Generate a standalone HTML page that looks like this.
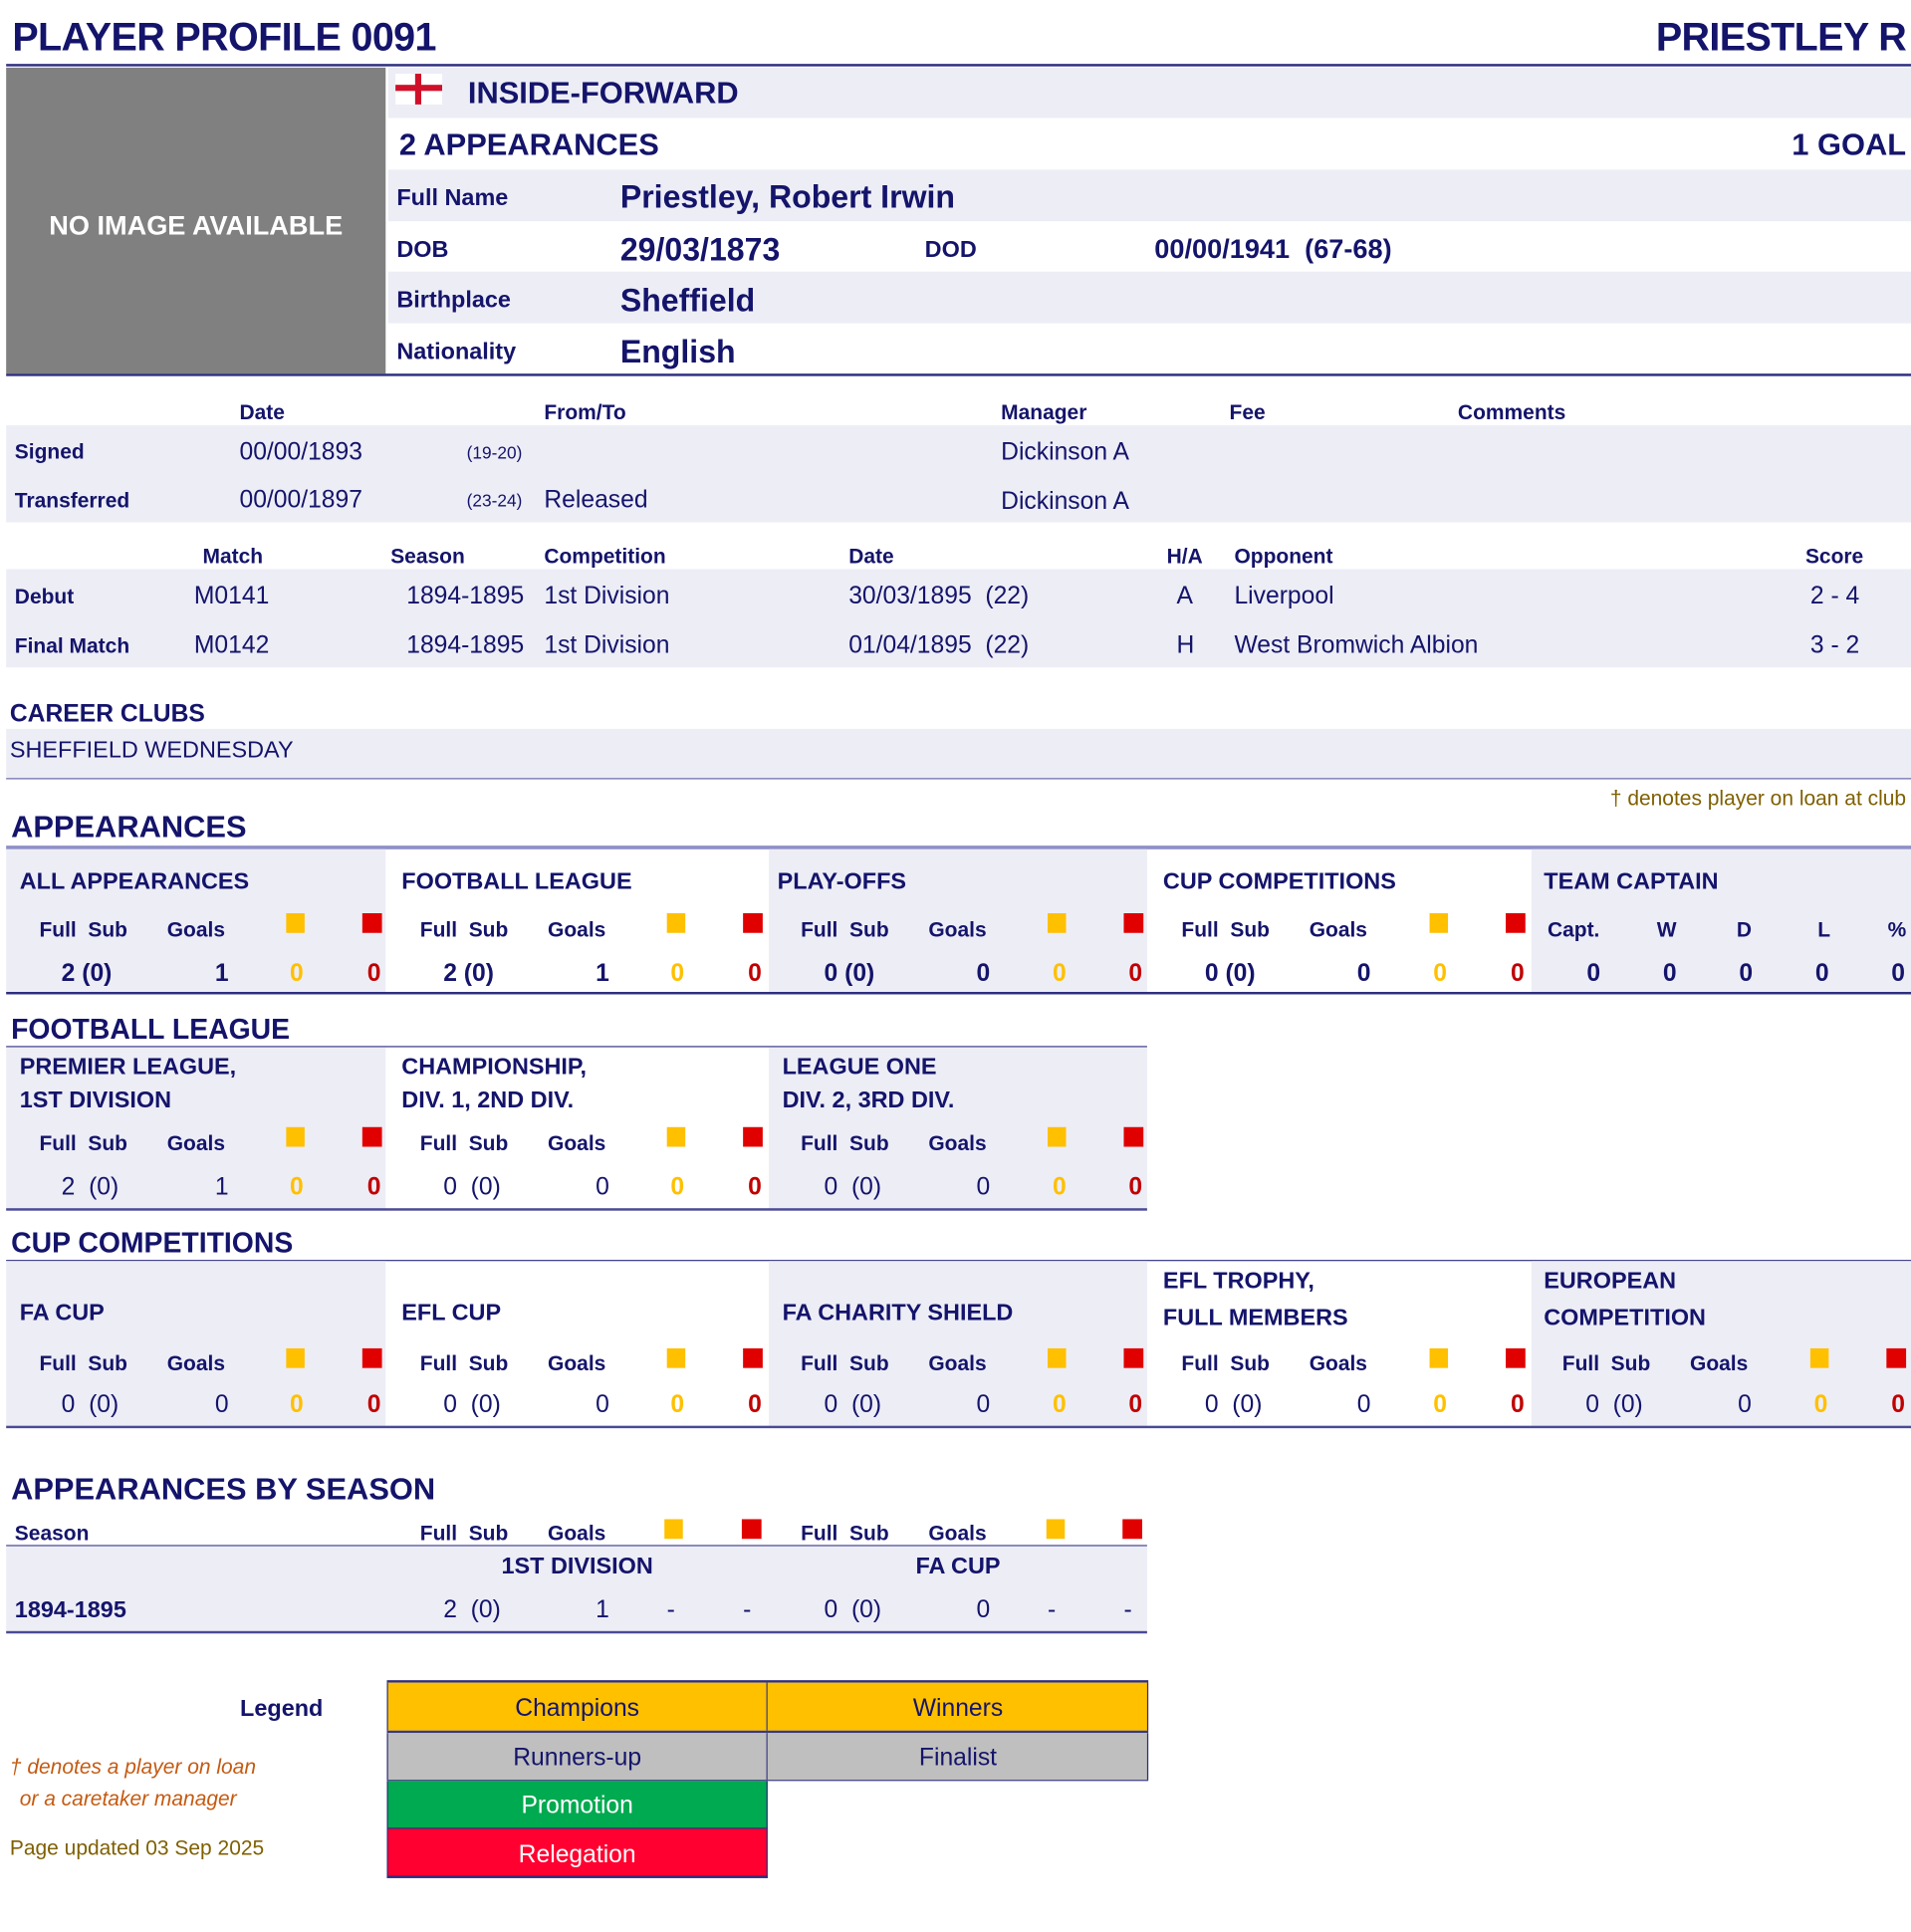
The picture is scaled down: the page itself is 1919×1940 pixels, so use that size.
<!DOCTYPE html>
<html><head><meta charset="utf-8">
<style>
html,body{margin:0;padding:0;background:#fff;width:1919px;height:1933px;overflow:hidden}
#w{position:absolute;left:0;top:0;width:1560px;height:1572px;transform:scale(1.2333,1.2342);transform-origin:0 0;font-family:"Liberation Sans",sans-serif;color:#14146b}
.t{position:absolute;white-space:nowrap;line-height:1}
.b{font-weight:bold}
.r{position:absolute}
.lav{background:#ededf6}
.ln{position:absolute;height:2px;background:#2e2e80}
.ys{position:absolute;width:15px;height:16px;background:#ffc000}
.rs{position:absolute;width:16px;height:16px;background:#e00000}
.yv{color:#ffc000}.rv{color:#c00000}
.c{text-align:center}
</style></head><body><div id="w">

<div class="t b" style="left:10px;top:14px;font-size:32px;letter-spacing:-0.5px">PLAYER PROFILE 0091</div>
<div class="t b" style="right:8px;top:14px;font-size:32px;letter-spacing:-0.5px">PRIESTLEY R</div>
<div class="ln" style="left:5px;top:52px;width:1551px"></div>

<div class="r" style="left:5px;top:55px;width:309px;height:249px;background:#808080"></div>
<div class="t b" style="left:5px;width:309px;top:173px;font-size:22px;color:#fff;text-align:center">NO IMAGE AVAILABLE</div>

<div class="r lav" style="left:316px;top:55px;width:1240px;height:41px"></div>
<div class="r lav" style="left:316px;top:138px;width:1240px;height:42px"></div>
<div class="r lav" style="left:316px;top:221px;width:1240px;height:42px"></div>
<div class="r" style="left:322px;top:60px;width:38px;height:25px;background:#fff"></div>
<div class="r" style="left:322px;top:69px;width:38px;height:5px;background:#d0102a"></div>
<div class="r" style="left:338px;top:60px;width:5px;height:25px;background:#d0102a"></div>
<div class="t b" style="left:381px;top:64px;font-size:25px">INSIDE-FORWARD</div>
<div class="t b" style="left:325px;top:106px;font-size:25px">2 APPEARANCES</div>
<div class="t b" style="right:8px;top:106px;font-size:25px">1 GOAL</div>
<div class="t b" style="left:323px;top:152px;font-size:19px">Full Name</div>
<div class="t b" style="left:505px;top:147px;font-size:26px">Priestley, Robert Irwin</div>
<div class="t b" style="left:323px;top:194px;font-size:19px">DOB</div>
<div class="t b" style="left:505px;top:190px;font-size:26px">29/03/1873</div>
<div class="t b" style="left:753px;top:194px;font-size:19px">DOD</div>
<div class="t b" style="left:940px;top:192px;font-size:22px;white-space:pre">00/00/1941  (67-68)</div>
<div class="t b" style="left:323px;top:235px;font-size:19px">Birthplace</div>
<div class="t b" style="left:505px;top:231px;font-size:26px">Sheffield</div>
<div class="t b" style="left:323px;top:277px;font-size:19px">Nationality</div>
<div class="t b" style="left:505px;top:273px;font-size:26px">English</div>
<div class="ln" style="left:5px;top:304px;width:1551px"></div>

<div class="t b" style="left:195px;top:327px;font-size:17px">Date</div>
<div class="t b" style="left:443px;top:327px;font-size:17px">From/To</div>
<div class="t b" style="left:815px;top:327px;font-size:17px">Manager</div>
<div class="t b" style="left:1001px;top:327px;font-size:17px">Fee</div>
<div class="t b" style="left:1187px;top:327px;font-size:17px">Comments</div>
<div class="r lav" style="left:5px;top:346px;width:1551px;height:79px"></div>
<div class="t b" style="left:12px;top:359px;font-size:17px">Signed</div>
<div class="t" style="left:195px;top:358px;font-size:20px">00/00/1893</div>
<div class="t" style="left:380px;top:361px;font-size:14px">(19-20)</div>
<div class="t" style="left:815px;top:358px;font-size:20px">Dickinson A</div>
<div class="t b" style="left:12px;top:399px;font-size:17px">Transferred</div>
<div class="t" style="left:195px;top:397px;font-size:20px">00/00/1897</div>
<div class="t" style="left:380px;top:400px;font-size:14px">(23-24)</div>
<div class="t" style="left:443px;top:397px;font-size:20px">Released</div>
<div class="t" style="left:815px;top:398px;font-size:20px">Dickinson A</div>

<div class="t b" style="left:165px;top:444px;font-size:17px">Match</div>
<div class="t b" style="left:318px;top:444px;font-size:17px">Season</div>
<div class="t b" style="left:443px;top:444px;font-size:17px">Competition</div>
<div class="t b" style="left:691px;top:444px;font-size:17px">Date</div>
<div class="t b" style="left:950px;top:444px;font-size:17px">H/A</div>
<div class="t b" style="left:1005px;top:444px;font-size:17px">Opponent</div>
<div class="t b" style="left:1470px;top:444px;font-size:17px">Score</div>
<div class="r lav" style="left:5px;top:463px;width:1551px;height:80px"></div>
<div class="t b" style="left:12px;top:477px;font-size:17px">Debut</div>
<div class="t" style="left:158px;top:475px;font-size:20px">M0141</div>
<div class="t" style="left:331px;top:475px;font-size:20px">1894-1895</div>
<div class="t" style="left:443px;top:475px;font-size:20px">1st Division</div>
<div class="t" style="left:691px;top:475px;font-size:20px">30/03/1895 &nbsp;(22)</div>
<div class="t" style="left:958px;top:475px;font-size:20px">A</div>
<div class="t" style="left:1005px;top:475px;font-size:20px">Liverpool</div>
<div class="t" style="left:1474px;top:475px;font-size:20px">2 - 4</div>
<div class="t b" style="left:12px;top:517px;font-size:17px">Final Match</div>
<div class="t" style="left:158px;top:515px;font-size:20px">M0142</div>
<div class="t" style="left:331px;top:515px;font-size:20px">1894-1895</div>
<div class="t" style="left:443px;top:515px;font-size:20px">1st Division</div>
<div class="t" style="left:691px;top:515px;font-size:20px">01/04/1895 &nbsp;(22)</div>
<div class="t" style="left:958px;top:515px;font-size:20px">H</div>
<div class="t" style="left:1005px;top:515px;font-size:20px">West Bromwich Albion</div>
<div class="t" style="left:1474px;top:515px;font-size:20px">3 - 2</div>

<div class="t b" style="left:8px;top:571px;font-size:20px">CAREER CLUBS</div>
<div class="r lav" style="left:5px;top:593px;width:1551px;height:40px"></div>
<div class="t" style="left:8px;top:601px;font-size:19px">SHEFFIELD WEDNESDAY</div>
<div class="r" style="left:5px;top:633px;width:1551px;height:1px;background:#6a6aaa"></div>
<div class="t" style="right:8px;top:641px;font-size:17px;color:#7f6000">† denotes player on loan at club</div>

<div class="t b" style="left:9px;top:661px;font-size:25px">APPEARANCES</div>
<div class="r" style="left:5px;top:688px;width:1551px;height:3px;background:#8f8fc8"></div>
<div class="r lav" style="left:5px;top:691px;width:309px;height:117px"></div>
<div class="r lav" style="left:626px;top:691px;width:308px;height:117px"></div>
<div class="r lav" style="left:1247px;top:691px;width:309px;height:117px"></div>
<div class="ln" style="left:5px;top:807px;width:1551px"></div>

<div class="t b" style="left:16px;top:708px;font-size:19px">ALL APPEARANCES</div>
<div class="t b" style="left:327px;top:708px;font-size:19px">FOOTBALL LEAGUE</div>
<div class="t b" style="left:633px;top:708px;font-size:19px">PLAY-OFFS</div>
<div class="t b" style="left:947px;top:708px;font-size:19px">CUP COMPETITIONS</div>
<div class="t b" style="left:1257px;top:708px;font-size:19px">TEAM CAPTAIN</div>

<div class="t b" style="left:32px;top:748px;font-size:17px">Full&nbsp; Sub</div><div class="t b" style="left:136px;top:748px;font-size:17px">Goals</div><div class="ys" style="left:233px;top:743px"></div><div class="rs" style="left:295px;top:743px"></div>
<div class="t b" style="left:342px;top:748px;font-size:17px">Full&nbsp; Sub</div><div class="t b" style="left:446px;top:748px;font-size:17px">Goals</div><div class="ys" style="left:543px;top:743px"></div><div class="rs" style="left:605px;top:743px"></div>
<div class="t b" style="left:652px;top:748px;font-size:17px">Full&nbsp; Sub</div><div class="t b" style="left:756px;top:748px;font-size:17px">Goals</div><div class="ys" style="left:853px;top:743px"></div><div class="rs" style="left:915px;top:743px"></div>
<div class="t b" style="left:962px;top:748px;font-size:17px">Full&nbsp; Sub</div><div class="t b" style="left:1066px;top:748px;font-size:17px">Goals</div><div class="ys" style="left:1164px;top:743px"></div><div class="rs" style="left:1226px;top:743px"></div>
<div class="t b" style="left:1260px;top:748px;font-size:17px">Capt.</div><div class="t b" style="left:1349px;top:748px;font-size:17px">W</div><div class="t b" style="left:1414px;top:748px;font-size:17px">D</div><div class="t b" style="left:1480px;top:748px;font-size:17px">L</div><div class="t b" style="left:1537px;top:748px;font-size:17px">%</div>

<div class="t b" style="left:50px;top:782px;font-size:20px">2 (0)</div><div class="t b" style="left:175px;top:782px;font-size:20px">1</div><div class="t b yv" style="left:236px;top:782px;font-size:20px">0</div><div class="t b rv" style="left:299px;top:782px;font-size:20px">0</div>
<div class="t b" style="left:361px;top:782px;font-size:20px">2 (0)</div><div class="t b" style="left:485px;top:782px;font-size:20px">1</div><div class="t b yv" style="left:546px;top:782px;font-size:20px">0</div><div class="t b rv" style="left:609px;top:782px;font-size:20px">0</div>
<div class="t b" style="left:671px;top:782px;font-size:20px">0 (0)</div><div class="t b" style="left:795px;top:782px;font-size:20px">0</div><div class="t b yv" style="left:857px;top:782px;font-size:20px">0</div><div class="t b rv" style="left:919px;top:782px;font-size:20px">0</div>
<div class="t b" style="left:981px;top:782px;font-size:20px">0 (0)</div><div class="t b" style="left:1105px;top:782px;font-size:20px">0</div><div class="t b yv" style="left:1167px;top:782px;font-size:20px">0</div><div class="t b rv" style="left:1230px;top:782px;font-size:20px">0</div>
<div class="t b" style="left:1292px;top:782px;font-size:20px">0</div><div class="t b" style="left:1354px;top:782px;font-size:20px">0</div><div class="t b" style="left:1416px;top:782px;font-size:20px">0</div><div class="t b" style="left:1478px;top:782px;font-size:20px">0</div><div class="t b" style="left:1540px;top:782px;font-size:20px">0</div>

<div class="t b" style="left:9px;top:826px;font-size:23px">FOOTBALL LEAGUE</div>
<div class="r" style="left:5px;top:851px;width:929px;height:1px;background:#3a3a8a"></div>
<div class="r lav" style="left:5px;top:852px;width:309px;height:132px"></div>
<div class="r lav" style="left:626px;top:852px;width:308px;height:132px"></div>
<div class="r" style="left:5px;top:983px;width:929px;height:2px;background:#4a4a96"></div>
<div class="t b" style="left:16px;top:855px;font-size:19px;line-height:27px">PREMIER LEAGUE,<br>1ST DIVISION</div>
<div class="t b" style="left:327px;top:855px;font-size:19px;line-height:27px">CHAMPIONSHIP,<br>DIV. 1, 2ND DIV.</div>
<div class="t b" style="left:637px;top:855px;font-size:19px;line-height:27px">LEAGUE ONE<br>DIV. 2, 3RD DIV.</div>
<div class="t b" style="left:32px;top:922px;font-size:17px">Full&nbsp; Sub</div><div class="t b" style="left:136px;top:922px;font-size:17px">Goals</div><div class="ys" style="left:233px;top:917px"></div><div class="rs" style="left:295px;top:917px"></div>
<div class="t b" style="left:342px;top:922px;font-size:17px">Full&nbsp; Sub</div><div class="t b" style="left:446px;top:922px;font-size:17px">Goals</div><div class="ys" style="left:543px;top:917px"></div><div class="rs" style="left:605px;top:917px"></div>
<div class="t b" style="left:652px;top:922px;font-size:17px">Full&nbsp; Sub</div><div class="t b" style="left:756px;top:922px;font-size:17px">Goals</div><div class="ys" style="left:853px;top:917px"></div><div class="rs" style="left:915px;top:917px"></div>
<div class="t" style="left:50px;top:956px;font-size:20px">2 &nbsp;(0)</div><div class="t" style="left:175px;top:956px;font-size:20px">1</div><div class="t b yv" style="left:236px;top:956px;font-size:20px">0</div><div class="t b rv" style="left:299px;top:956px;font-size:20px">0</div>
<div class="t" style="left:361px;top:956px;font-size:20px">0 &nbsp;(0)</div><div class="t" style="left:485px;top:956px;font-size:20px">0</div><div class="t b yv" style="left:546px;top:956px;font-size:20px">0</div><div class="t b rv" style="left:609px;top:956px;font-size:20px">0</div>
<div class="t" style="left:671px;top:956px;font-size:20px">0 &nbsp;(0)</div><div class="t" style="left:795px;top:956px;font-size:20px">0</div><div class="t b yv" style="left:857px;top:956px;font-size:20px">0</div><div class="t b rv" style="left:919px;top:956px;font-size:20px">0</div>

<div class="t b" style="left:9px;top:1000px;font-size:23px">CUP COMPETITIONS</div>
<div class="r" style="left:5px;top:1025px;width:1551px;height:1px;background:#3a3a8a"></div>
<div class="r lav" style="left:5px;top:1026px;width:309px;height:134px"></div>
<div class="r lav" style="left:626px;top:1026px;width:308px;height:134px"></div>
<div class="r lav" style="left:1247px;top:1026px;width:309px;height:134px"></div>
<div class="r" style="left:5px;top:1160px;width:1551px;height:2px;background:#4a4a96"></div>
<div class="t b" style="left:16px;top:1059px;font-size:19px">FA CUP</div>
<div class="t b" style="left:327px;top:1059px;font-size:19px">EFL CUP</div>
<div class="t b" style="left:637px;top:1059px;font-size:19px">FA CHARITY SHIELD</div>
<div class="t b" style="left:947px;top:1028px;font-size:19px;line-height:30px">EFL TROPHY,<br>FULL MEMBERS</div>
<div class="t b" style="left:1257px;top:1028px;font-size:19px;line-height:30px">EUROPEAN<br>COMPETITION</div>
<div class="t b" style="left:32px;top:1101px;font-size:17px">Full&nbsp; Sub</div><div class="t b" style="left:136px;top:1101px;font-size:17px">Goals</div><div class="ys" style="left:233px;top:1097px"></div><div class="rs" style="left:295px;top:1097px"></div>
<div class="t b" style="left:342px;top:1101px;font-size:17px">Full&nbsp; Sub</div><div class="t b" style="left:446px;top:1101px;font-size:17px">Goals</div><div class="ys" style="left:543px;top:1097px"></div><div class="rs" style="left:605px;top:1097px"></div>
<div class="t b" style="left:652px;top:1101px;font-size:17px">Full&nbsp; Sub</div><div class="t b" style="left:756px;top:1101px;font-size:17px">Goals</div><div class="ys" style="left:853px;top:1097px"></div><div class="rs" style="left:915px;top:1097px"></div>
<div class="t b" style="left:962px;top:1101px;font-size:17px">Full&nbsp; Sub</div><div class="t b" style="left:1066px;top:1101px;font-size:17px">Goals</div><div class="ys" style="left:1164px;top:1097px"></div><div class="rs" style="left:1226px;top:1097px"></div>
<div class="t b" style="left:1272px;top:1101px;font-size:17px">Full&nbsp; Sub</div><div class="t b" style="left:1376px;top:1101px;font-size:17px">Goals</div><div class="ys" style="left:1474px;top:1097px"></div><div class="rs" style="left:1536px;top:1097px"></div>
<div class="t" style="left:50px;top:1133px;font-size:20px">0 &nbsp;(0)</div><div class="t" style="left:175px;top:1133px;font-size:20px">0</div><div class="t b yv" style="left:236px;top:1133px;font-size:20px">0</div><div class="t b rv" style="left:299px;top:1133px;font-size:20px">0</div>
<div class="t" style="left:361px;top:1133px;font-size:20px">0 &nbsp;(0)</div><div class="t" style="left:485px;top:1133px;font-size:20px">0</div><div class="t b yv" style="left:546px;top:1133px;font-size:20px">0</div><div class="t b rv" style="left:609px;top:1133px;font-size:20px">0</div>
<div class="t" style="left:671px;top:1133px;font-size:20px">0 &nbsp;(0)</div><div class="t" style="left:795px;top:1133px;font-size:20px">0</div><div class="t b yv" style="left:857px;top:1133px;font-size:20px">0</div><div class="t b rv" style="left:919px;top:1133px;font-size:20px">0</div>
<div class="t" style="left:981px;top:1133px;font-size:20px">0 &nbsp;(0)</div><div class="t" style="left:1105px;top:1133px;font-size:20px">0</div><div class="t b yv" style="left:1167px;top:1133px;font-size:20px">0</div><div class="t b rv" style="left:1230px;top:1133px;font-size:20px">0</div>
<div class="t" style="left:1291px;top:1133px;font-size:20px">0 &nbsp;(0)</div><div class="t" style="left:1415px;top:1133px;font-size:20px">0</div><div class="t b yv" style="left:1477px;top:1133px;font-size:20px">0</div><div class="t b rv" style="left:1540px;top:1133px;font-size:20px">0</div>

<div class="t b" style="left:9px;top:1200px;font-size:25px">APPEARANCES BY SEASON</div>
<div class="t b" style="left:12px;top:1239px;font-size:17px">Season</div>
<div class="t b" style="left:342px;top:1239px;font-size:17px">Full&nbsp; Sub</div><div class="t b" style="left:446px;top:1239px;font-size:17px">Goals</div><div class="ys" style="left:541px;top:1236px"></div><div class="rs" style="left:604px;top:1236px"></div>
<div class="t b" style="left:652px;top:1239px;font-size:17px">Full&nbsp; Sub</div><div class="t b" style="left:756px;top:1239px;font-size:17px">Goals</div><div class="ys" style="left:852px;top:1236px"></div><div class="rs" style="left:914px;top:1236px"></div>
<div class="r" style="left:5px;top:1257px;width:929px;height:1px;background:#3a3a8a"></div>
<div class="r lav" style="left:5px;top:1258px;width:929px;height:69px"></div>
<div class="r" style="left:5px;top:1327px;width:929px;height:2px;background:#4a4a96"></div>
<div class="t b c" style="left:316px;width:308px;top:1265px;font-size:19px">1ST DIVISION</div>
<div class="t b c" style="left:626px;width:308px;top:1265px;font-size:19px">FA CUP</div>
<div class="t b" style="left:12px;top:1301px;font-size:19px">1894-1895</div>
<div class="t" style="left:361px;top:1300px;font-size:20px">2 &nbsp;(0)</div><div class="t" style="left:485px;top:1300px;font-size:20px">1</div><div class="t" style="left:543px;top:1300px;font-size:20px">-</div><div class="t" style="left:605px;top:1300px;font-size:20px">-</div>
<div class="t" style="left:671px;top:1300px;font-size:20px">0 &nbsp;(0)</div><div class="t" style="left:795px;top:1300px;font-size:20px">0</div><div class="t" style="left:853px;top:1300px;font-size:20px">-</div><div class="t" style="left:915px;top:1300px;font-size:20px">-</div>

<div class="t b" style="right:1297px;top:1381px;font-size:19px">Legend</div>
<div class="r" style="left:315px;top:1367px;width:620px;height:2px;background:#2e2e80"></div>
<div class="r" style="left:315px;top:1369px;width:310px;height:39px;background:#ffc000;box-sizing:border-box;border-left:1px solid #2e2e80;border-right:1px solid #2e2e80"></div>
<div class="r" style="left:625px;top:1369px;width:310px;height:39px;background:#ffc000;box-sizing:border-box;border-right:1px solid #2e2e80"></div>
<div class="r" style="left:315px;top:1408px;width:620px;height:2px;background:#3a3a80"></div>
<div class="r" style="left:315px;top:1410px;width:310px;height:38px;background:#bfbfbf;box-sizing:border-box;border-left:1px solid #2e2e80;border-right:1px solid #2e2e80"></div>
<div class="r" style="left:625px;top:1410px;width:310px;height:38px;background:#bfbfbf;box-sizing:border-box;border-right:1px solid #2e2e80"></div>
<div class="r" style="left:315px;top:1448px;width:620px;height:1px;background:#3a3a80"></div>
<div class="r" style="left:315px;top:1449px;width:310px;height:39px;background:#00aa50;box-sizing:border-box;border-left:1px solid #2e2e80;border-right:1px solid #2e2e80;border-bottom:1px solid #2e2e80"></div>
<div class="r" style="left:315px;top:1488px;width:310px;height:40px;background:#ff0030;box-sizing:border-box;border-left:1px solid #2e2e80;border-right:1px solid #2e2e80;border-bottom:2px solid #2e2e80"></div>
<div class="t c" style="left:315px;width:310px;top:1380px;font-size:20px">Champions</div>
<div class="t c" style="left:625px;width:310px;top:1380px;font-size:20px">Winners</div>
<div class="t c" style="left:315px;width:310px;top:1420px;font-size:20px">Runners-up</div>
<div class="t c" style="left:625px;width:310px;top:1420px;font-size:20px">Finalist</div>
<div class="t c" style="left:315px;width:310px;top:1459px;font-size:20px;color:#fff">Promotion</div>
<div class="t c" style="left:315px;width:310px;top:1499px;font-size:20px;color:#fff">Relegation</div>
<div class="t" style="left:8px;top:1429px;font-size:17px;font-style:italic;color:#c55a11">† denotes a player on loan</div>
<div class="t" style="left:16px;top:1455px;font-size:17px;font-style:italic;color:#c55a11">or a caretaker manager</div>
<div class="t" style="left:8px;top:1495px;font-size:17px;color:#7f6000">Page updated 03 Sep 2025</div>

</div></body></html>
